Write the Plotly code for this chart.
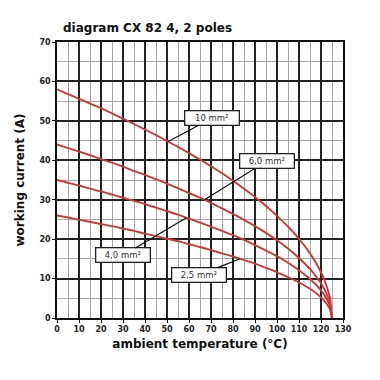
import bisect
import plotly.graph_objects as go

# ambient temperature (°C)
temperature = [0, 5, 10, 15, 20, 25, 30, 35, 40, 45, 50, 55, 60, 65, 70, 75,
               80, 85, 90, 95, 100, 105, 110, 115, 118, 120, 122, 124, 125]

# working current (A) per cross-section
current_10 = [58.0, 56.8, 55.6, 54.4, 53.2, 51.9, 50.6, 49.2, 47.8, 46.4, 44.9, 43.4,
              41.8, 40.2, 38.5, 36.7, 34.8, 32.8, 30.7, 28.4, 25.9, 23.2, 20.1, 16.4,
              13.7, 11.6, 9.0, 5.2, 0.0]
current_6 = [44.0, 43.1, 42.2, 41.3, 40.3, 39.4, 38.4, 37.3, 36.3, 35.2, 34.1, 32.9,
             31.7, 30.5, 29.2, 27.8, 26.4, 24.9, 23.3, 21.6, 19.7, 17.6, 15.2, 12.4,
             10.4, 8.8, 6.8, 3.9, 0.0]
current_4 = [35.0, 34.3, 33.6, 32.8, 32.1, 31.3, 30.5, 29.7, 28.9, 28.0, 27.1, 26.2,
             25.2, 24.2, 23.2, 22.1, 21.0, 19.8, 18.5, 17.1, 15.7, 14.0, 12.1, 9.9,
             8.3, 7.0, 5.4, 3.1, 0.0]
current_25 = [26.0, 25.5, 24.9, 24.4, 23.8, 23.3, 22.7, 22.1, 21.4, 20.8, 20.1, 19.5,
              18.7, 18.0, 17.2, 16.4, 15.6, 14.7, 13.8, 12.7, 11.6, 10.4, 9.0, 7.4,
              6.2, 5.2, 4.0, 2.3, 0.0]

series_names = ["10 mm²", "6,0 mm²", "4,0 mm²", "2,5 mm²"]
series_values = [current_10, current_6, current_4, current_25]

# label boxes: text, temperature the leader points at, box centre
label_text = ["10 mm²", "6,0 mm²", "4,0 mm²", "2,5 mm²"]
label_point_x = [50.5, 67.0, 58.8, 83.2]
label_box_x = [70.3, 95.3, 30.0, 64.7]
label_box_y = [50.6, 39.8, 15.9, 10.9]

x_ticks = list(range(0, 131, 10))
y_ticks = list(range(0, 71, 10))

line_color = "#cf3838"
font_family = "DejaVu Sans"

fig = go.Figure()
for name, vals in zip(series_names, series_values):
    fig.add_trace(go.Scatter(
        x=temperature, y=vals, mode="lines", name=name,
        line=dict(color=line_color, width=1.9, shape="spline", smoothing=0.6),
        showlegend=False,
    ))

for txt, px, bx, by, vals in zip(label_text, label_point_x, label_box_x, label_box_y, series_values):
    i = bisect.bisect_left(temperature, px)
    x0, x1 = temperature[i - 1], temperature[i]
    y0, y1 = vals[i - 1], vals[i]
    py = y0 + (y1 - y0) * (px - x0) / (x1 - x0)
    fig.add_annotation(
        x=px, y=py, xref="x", yref="y",
        ax=bx, ay=by, axref="x", ayref="y",
        text=txt, showarrow=True, arrowhead=0, arrowwidth=1.2, arrowcolor="#111",
        font=dict(family=font_family, size=8.5, color="#333"),
        width=50, height=10, align="center",
        bgcolor="white", bordercolor="#222", borderwidth=1.3, borderpad=1.5,
    )

axis_common = dict(
    showline=True, linecolor="#111", linewidth=1.6, mirror=True,
    ticks="outside", ticklen=3, tickcolor="#111", tickwidth=1,
    showgrid=True, gridcolor="#222", gridwidth=1.5,
    zeroline=False, automargin=False,
    tickfont=dict(family=font_family, size=8, color="#222", weight="bold"),
    title_font=dict(family=font_family, size=12, color="#111", weight="bold"),
)

fig.update_xaxes(
    range=[0, 130], tickvals=x_ticks, ticktext=[str(v) for v in x_ticks],
    minor=dict(dtick=5, tick0=0, showgrid=True, gridcolor="#a8a8a8", gridwidth=1.4),
    title_text="ambient temperature (°C)", title_standoff=6,
    **axis_common,
)
fig.update_yaxes(
    range=[0, 70], tickvals=y_ticks, ticktext=[str(v) for v in y_ticks],
    minor=dict(dtick=5, tick0=0, showgrid=True, gridcolor="#a8a8a8", gridwidth=1.4),
    title_text="working current (A)", title_standoff=12,
    **axis_common,
)

# the page body has an 8px margin, so the figure is drawn 8px in from the window edge
fig.update_layout(
    width=372, height=372,
    margin=dict(l=49, r=37, t=34, b=62),
    paper_bgcolor="white", plot_bgcolor="white",
    title=dict(
        text="diagram CX 82 4, 2 poles",
        x=55 / 372, xanchor="left", xref="container",
        y=1 - 20 / 372, yanchor="middle", yref="container",
        font=dict(family=font_family, size=12, color="#111", weight="bold"),
    ),
)

fig.write_html("out.html")
